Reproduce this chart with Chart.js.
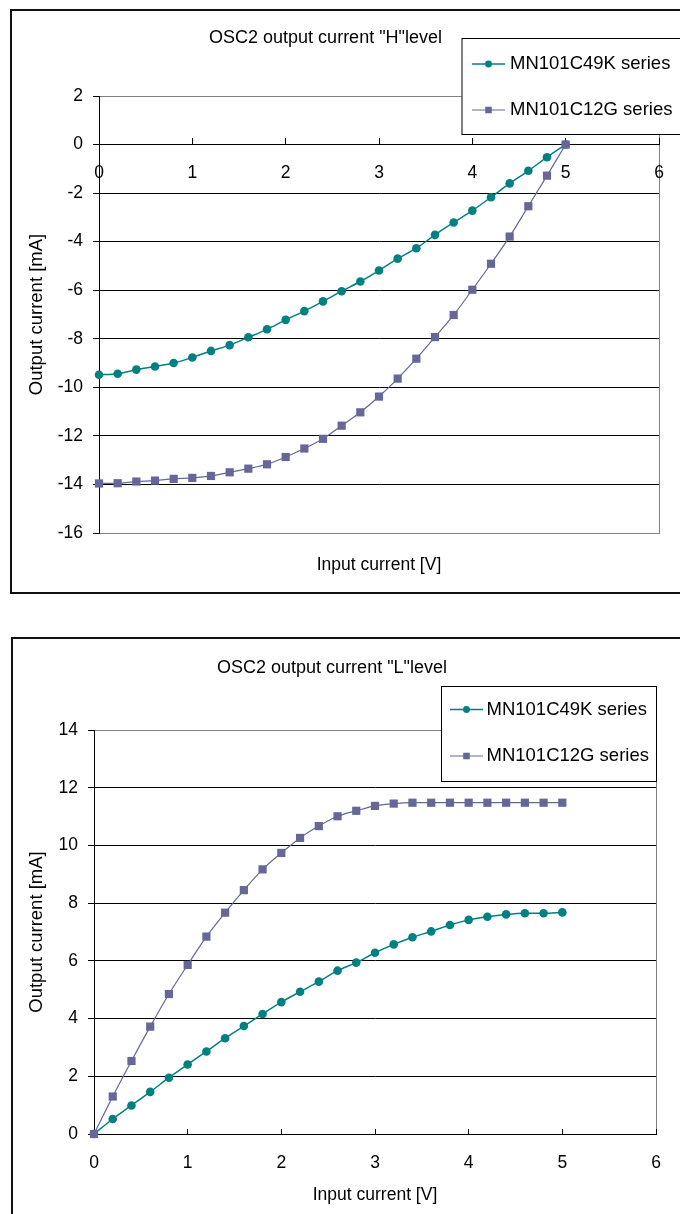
<!DOCTYPE html>
<html>
<head>
<meta charset="utf-8">
<title>OSC2 output current</title>
<script src="https://cdn.jsdelivr.net/npm/chart.js@4.4.0/dist/chart.umd.min.js"></script>
<style>
  html, body { margin: 0; padding: 0; width: 680px; height: 1214px; overflow: hidden; background: #fff; }
  .frame { position: absolute; border: 2px solid #111; box-sizing: border-box; }
  #frame1 { left: 10px; top: 9px; width: 700px; height: 585px; }
  #frame2 { left: 11px; top: 637px; width: 700px; height: 620px; }
  canvas { position: absolute; }
  #chartH { left: -10px; top: 0; }
  #chartL { left: -10px; top: 600px; }
</style>
</head>
<body>
<div class="frame" id="frame1"></div>
<div class="frame" id="frame2"></div>
<canvas id="chartH" width="700" height="600"></canvas>
<canvas id="chartL" width="700" height="614"></canvas>
<script>
// input voltage steps (same for both charts)
var inputV = [0, 0.2, 0.4, 0.6, 0.8, 1.0, 1.2, 1.4, 1.6, 1.8, 2.0, 2.2, 2.4,
  2.6, 2.8, 3.0, 3.2, 3.4, 3.6, 3.8, 4.0, 4.2, 4.4, 4.6, 4.8, 5.0];

var seriesNames = ['MN101C49K series', 'MN101C12G series'];

// "H" level output current [mA]
var hLevel49K = [-9.48, -9.44, -9.27, -9.14, -9.00, -8.77, -8.50, -8.26, -7.94, -7.61,
  -7.22, -6.86, -6.46, -6.04, -5.64, -5.19, -4.70, -4.27, -3.72, -3.21,
  -2.72, -2.17, -1.60, -1.08, -0.52, 0.00];
var hLevel12G = [-13.96, -13.95, -13.88, -13.84, -13.77, -13.73, -13.65, -13.50, -13.35, -13.17,
  -12.87, -12.52, -12.12, -11.58, -11.03, -10.38, -9.64, -8.82, -7.93, -7.02,
  -5.98, -4.91, -3.79, -2.54, -1.28, 0.00];

// "L" level output current [mA]
var lLevel49K = [0, 0.52, 0.99, 1.46, 1.95, 2.41, 2.86, 3.32, 3.74, 4.16,
  4.57, 4.93, 5.28, 5.66, 5.94, 6.28, 6.57, 6.82, 7.02, 7.24,
  7.42, 7.53, 7.61, 7.65, 7.65, 7.68];
var lLevel12G = [0, 1.30, 2.53, 3.72, 4.85, 5.86, 6.84, 7.67, 8.45, 9.17,
  9.74, 10.26, 10.67, 11.01, 11.20, 11.37, 11.45, 11.48, 11.48, 11.48,
  11.48, 11.48, 11.48, 11.48, 11.48, 11.48];

var xTicks = [0, 1, 2, 3, 4, 5, 6];
var hTicks = [2, 0, -2, -4, -6, -8, -10, -12, -14, -16];
var lTicks = [14, 12, 10, 8, 6, 4, 2, 0];

var TEAL = '#008080';
var PURPLE = '#666699';

Chart.defaults.font.family = '"Liberation Sans", Arial, sans-serif';
Chart.defaults.color = '#000';

function points(ys) {
  var out = [];
  for (var i = 0; i < inputV.length; i++) {
    out.push({x: inputV[i], y: ys[i]});
  }
  return out;
}

function makeDatasets(k, g) {
  return [{
    label: seriesNames[0],
    data: points(k),
    borderColor: TEAL,
    backgroundColor: TEAL,
    pointBackgroundColor: TEAL,
    borderWidth: 1.5,
    pointStyle: 'circle',
    pointRadius: 4.3,
    pointBorderWidth: 0,
    cubicInterpolationMode: 'monotone',
    clip: false,
    order: 1
  }, {
    label: seriesNames[1],
    data: points(g),
    borderColor: PURPLE,
    backgroundColor: PURPLE,
    pointBackgroundColor: PURPLE,
    borderWidth: 1.2,
    pointStyle: 'rect',
    pointRadius: 5.8,
    pointBorderWidth: 0,
    cubicInterpolationMode: 'monotone',
    clip: false,
    order: 0
  }];
}

// grey plot frame + excel-like legend box
var excelFrame = {
  id: 'excelFrame',
  beforeDraw: function (chart) {
    var a = chart.chartArea, ctx = chart.ctx;
    ctx.save();
    ctx.strokeStyle = '#808080';
    ctx.lineWidth = 1;
    ctx.strokeRect(Math.round(a.left) + 0.5, Math.round(a.top) + 0.5,
      Math.round(a.right - a.left), Math.round(a.bottom - a.top));
    ctx.restore();
  },
  afterDraw: function (chart, args, opts) {
    var ctx = chart.ctx;
    var b = opts.box;
    ctx.save();
    ctx.fillStyle = '#fff';
    ctx.fillRect(b.x, b.y, b.w, b.h);
    ctx.strokeStyle = '#000';
    ctx.lineWidth = 1;
    ctx.strokeRect(b.x + 0.5, b.y + 0.5, b.w, b.h);
    ctx.font = opts.fontSize + 'px "Liberation Sans", Arial, sans-serif';
    ctx.textBaseline = 'middle';
    ctx.textAlign = 'left';
    chart.data.datasets.forEach(function (ds, i) {
      var y = b.y + opts.rows[i];
      ctx.strokeStyle = ds.borderColor;
      ctx.lineWidth = ds.borderWidth;
      ctx.beginPath();
      ctx.moveTo(b.x + opts.line[0], y);
      ctx.lineTo(b.x + opts.line[1], y);
      ctx.stroke();
      ctx.fillStyle = ds.pointBackgroundColor;
      Chart.helpers.drawPoint(ctx, {
        pointStyle: ds.pointStyle,
        radius: ds.pointRadius * 0.8,
        rotation: 0,
        borderWidth: 0
      }, b.x + (opts.line[0] + opts.line[1]) / 2, y);
      ctx.fillStyle = '#000';
      ctx.fillText(ds.label, b.x + opts.textX, y);
    });
    ctx.restore();
  }
};

function fixedTicks(list) {
  return function (scale) {
    scale.ticks = list.map(function (v) { return {value: v}; });
  };
}

function makeChart(id, cfg) {
  var ctx = document.getElementById(id).getContext('2d');
  return new Chart(ctx, {
    type: 'line',
    data: {datasets: cfg.datasets},
    plugins: [excelFrame],
    options: {
      responsive: false,
      animation: false,
      devicePixelRatio: 1,
      layout: {padding: {left: cfg.padLeft, right: cfg.padRight, top: 0, bottom: 0}},
      plugins: {
        legend: {display: false},
        tooltip: {enabled: false},
        title: {
          display: true,
          text: cfg.title,
          color: '#000',
          font: {size: 18, weight: 'normal'},
          padding: {top: cfg.titlePad[0], bottom: cfg.titlePad[1]}
        },
        excelFrame: cfg.legend
      },
      scales: {
        x: {
          type: 'linear',
          position: {y: 0},
          min: 0,
          max: 6,
          afterBuildTicks: fixedTicks(xTicks),
          ticks: {font: {size: 17.5}, color: '#000', padding: cfg.xTickPad},
          grid: {drawOnChartArea: false, drawTicks: true, tickLength: cfg.xTickLen, tickColor: '#000'},
          border: {color: '#000', width: 1}
        },
        xt: {
          type: 'linear',
          position: 'bottom',
          min: 0,
          max: 6,
          ticks: {display: false},
          grid: {display: false, drawTicks: false},
          border: {display: false},
          title: {
            display: true,
            text: 'Input current [V]',
            color: '#000',
            font: {size: 17.5},
            padding: {top: cfg.xTitlePad[0], bottom: cfg.xTitlePad[1]}
          }
        },
        y: {
          type: 'linear',
          position: 'left',
          min: cfg.yMin,
          max: cfg.yMax,
          afterBuildTicks: fixedTicks(cfg.yTicks),
          afterFit: function (s) { s.width = cfg.yWidth; },
          ticks: {font: {size: 17.5}, color: '#000', padding: 10},
          grid: {
            color: function (c) {
              var v = c.tick ? c.tick.value : null;
              return (v === cfg.yMin || v === cfg.yMax) ? '#808080' : '#000';
            },
            lineWidth: 1,
            tickLength: 6,
            tickColor: '#000'
          },
          border: {color: '#000', width: 1},
          title: {
            display: true,
            text: 'Output current [mA]',
            color: '#000',
            font: {size: 18.5},
            padding: {top: cfg.yTitlePad, bottom: 0}
          }
        }
      }
    }
  });
}

makeChart('chartH', {
  datasets: makeDatasets(hLevel49K, hLevel12G),
  title: 'OSC2 output current "H"level',
  padLeft: 2,
  padRight: 31,
  titlePad: [27.2, 47.2],
  xTickPad: 25.5,
  xTickLen: -7,
  xTitlePad: [21.5, 24.5],
  yMin: -16,
  yMax: 2,
  yTicks: hTicks,
  yWidth: 107,
  yTitlePad: 34,
  legend: {box: {x: 471.5, y: 38, w: 222, h: 96}, rows: [26, 72], line: [10.5, 43.5], textX: 48.5, fontSize: 18.5}
});

makeChart('chartL', {
  datasets: makeDatasets(lLevel49K, lLevel12G),
  title: 'OSC2 output current "L"level',
  padLeft: 18,
  padRight: 34,
  titlePad: [57, 51.4],
  xTickPad: 24.2,
  xTickLen: -6,
  xTitlePad: [50.5, 8.5],
  yMin: 0,
  yMax: 14,
  yTicks: lTicks,
  yWidth: 86,
  yTitlePad: 18,
  legend: {box: {x: 451, y: 86, w: 215, h: 95}, rows: [23.5, 70], line: [9, 42], textX: 45.5, fontSize: 18.5}
});
</script>
</body>
</html>
